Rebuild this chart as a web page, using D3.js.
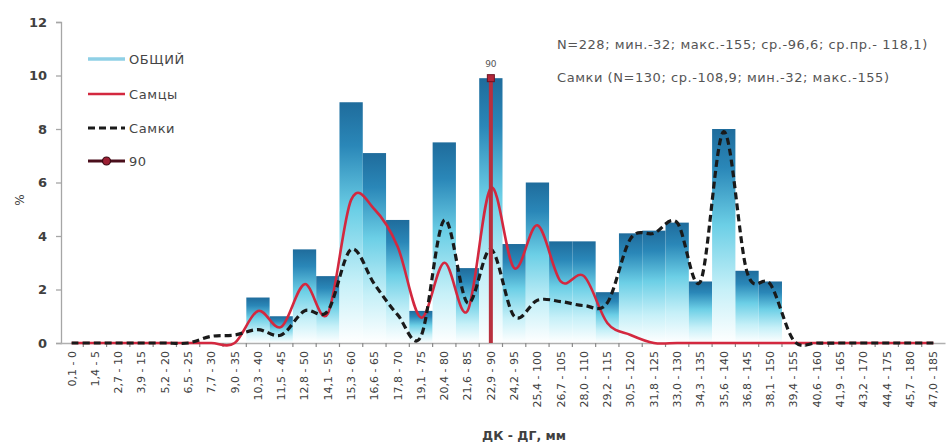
<!DOCTYPE html>
<html>
<head>
<meta charset="utf-8">
<script src="https://cdn.jsdelivr.net/npm/d3@7"></script>
<style>
  body { margin: 0; background: #ffffff; }
  svg { display: block; }
  text { font-family: "DejaVu Sans", "Liberation Sans", Arial, sans-serif; }
</style>
</head>
<body>
<svg id="chart" width="948" height="448"></svg>
<script>
// Length classes: "ДК - ДГ" pairs
const categories = [
  "0,1 - 0", "1,4 - 5", "2,7 - 10", "3,9 - 15", "5,2 - 20", "6,5 - 25", "7,7 - 30", "9,0 - 35",
  "10,3 - 40", "11,5 - 45", "12,8 - 50", "14,1 - 55", "15,3 - 60", "16,6 - 65", "17,8 - 70", "19,1 - 75",
  "20,4 - 80", "21,6 - 85", "22,9 - 90", "24,2 - 95", "25,4 - 100", "26,7 - 105", "28,0 - 110", "29,2 - 115",
  "30,5 - 120", "31,8 - 125", "33,0 - 130", "34,3 - 135", "35,6 - 140", "36,8 - 145", "38,1 - 150", "39,4 - 155",
  "40,6 - 160", "41,9 - 165", "43,2 - 170", "44,4 - 175", "45,7 - 180", "47,0 - 185"
];

// ОБЩИЙ, %
const totalPct = [
  0, 0, 0, 0, 0, 0, 0, 0,
  1.7, 1.0, 3.5, 2.5, 9.0, 7.1, 4.6, 1.2,
  7.5, 2.8, 9.9, 3.7, 6.0, 3.8, 3.8, 1.9,
  4.1, 4.2, 4.5, 2.3, 8.0, 2.7, 2.3, 0,
  0, 0, 0, 0, 0, 0
];

// Самцы, %
const malesPct = [
  0, 0, 0, 0, 0, 0, 0, 0,
  1.2, 0.6, 2.2, 1.1, 5.35, 5.0, 3.6, 0.95,
  3.0, 1.2, 5.8, 2.8, 4.4, 2.3, 2.5, 0.75,
  0.3, 0, 0, 0, 0, 0, 0, 0,
  0, 0, 0, 0, 0, 0
];

// Самки, %
const femalesPct = [
  0, 0, 0, 0, 0, 0, 0.25, 0.3,
  0.5, 0.3, 1.2, 1.2, 3.5, 2.2, 1.05, 0.25,
  4.6, 1.5, 3.5, 1.0, 1.6, 1.55, 1.4, 1.5,
  3.9, 4.1, 4.5, 2.3, 7.9, 2.65, 2.2, 0.1,
  0, 0, 0, 0, 0, 0
];

// "90" marker series
const markerCategory = "22,9 - 90";
const markerValue = 9.9;
const markerLabel = "90";

const yTicks = [0, 2, 4, 6, 8, 10, 12];
const legendLabels = ["ОБЩИЙ", "Самцы", "Самки", "90"];
const notes = [
  "N=228; мин.-32; макс.-155; ср.-96,6; ср.пр.- 118,1)",
  "Самки (N=130; ср.-108,9; мин.-32; макс.-155)"
];
const yTitle = "%";
const xTitle = "ДК - ДГ, мм";

const svg = d3.select("#chart");
const margin = { left: 60, right: 3, top: 22, bottom: 105 };
const W = 948, H = 448;

const x = d3.scaleBand()
  .domain(categories)
  .range([margin.left, W - margin.right])
  .paddingInner(0)
  .paddingOuter(0);

const y = d3.scaleLinear()
  .domain([0, 12])
  .range([H - margin.bottom, margin.top]);

const cx = c => x(c) + x.bandwidth() / 2;

// Vertical gradient used by every bar
const defs = svg.append("defs");
const grad = defs.append("linearGradient")
  .attr("id", "barGrad")
  .attr("x1", 0).attr("y1", 0).attr("x2", 0).attr("y2", 1);
[
  [0, "#1f6c9c"],
  [0.18, "#2a87b8"],
  [0.45, "#6ccfe6"],
  [0.75, "#c6f0f8"],
  [1, "#ffffff"]
].forEach(([o, c]) => grad.append("stop").attr("offset", o).attr("stop-color", c));

// Bars: ОБЩИЙ
svg.append("g")
  .selectAll("rect")
  .data(categories.map((c, i) => ({ c, v: totalPct[i] })).filter(d => d.v > 0))
  .join("rect")
  .attr("x", d => x(d.c))
  .attr("y", d => y(d.v))
  .attr("width", x.bandwidth())
  .attr("height", d => y(0) - y(d.v))
  .attr("fill", "url(#barGrad)");

// Y axis
const yAxis = d3.axisLeft(y).tickValues(yTicks).tickSize(5).tickPadding(9);
const gy = svg.append("g")
  .attr("transform", `translate(${margin.left + 1},0)`)
  .call(yAxis);
gy.select(".domain").attr("stroke", "#a6a6a6").attr("stroke-width", 1.3);
gy.selectAll(".tick line").attr("stroke", "#a6a6a6").attr("stroke-width", 1.3);
gy.selectAll(".tick text")
  .attr("fill", "#404040")
  .attr("font-size", 13)
  .attr("font-weight", "bold")
  .style("font-family", "'DejaVu Sans', Arial, sans-serif");

// X axis
const xAxis = d3.axisBottom(x).tickSize(0).tickFormat(d => d);
const gx = svg.append("g")
  .attr("transform", `translate(0,${y(0)})`)
  .call(xAxis);
gx.select(".domain").attr("stroke", "#b0b0b0").attr("stroke-width", 1.3);
gx.selectAll(".tick text")
  .attr("fill", "#404040")
  .attr("font-size", 11)
  .attr("text-anchor", "end")
  .attr("transform", "rotate(-90)")
  .attr("x", -8)
  .attr("y", 0)
  .attr("dy", "0.35em")
  .style("font-family", "'DejaVu Sans', Arial, sans-serif");

// Small boundary ticks between categories
svg.append("g")
  .selectAll("line")
  .data(categories.slice(1))
  .join("line")
  .attr("x1", d => x(d)).attr("x2", d => x(d))
  .attr("y1", y(0)).attr("y2", y(0) + 4)
  .attr("stroke", "#8a8a8a")
  .attr("stroke-width", 1.2);

// Smoothed lines
const line = d3.line()
  .x((d, i) => cx(categories[i]))
  .y(d => y(d))
  .curve(d3.curveCardinal.tension(0));

svg.append("path")
  .datum(malesPct)
  .attr("d", line)
  .attr("fill", "none")
  .attr("stroke", "#d3283f")
  .attr("stroke-width", 2.6)
  .attr("stroke-linejoin", "round");

svg.append("path")
  .datum(femalesPct)
  .attr("d", line)
  .attr("fill", "none")
  .attr("stroke", "#1a1a1a")
  .attr("stroke-width", 3.2)
  .attr("stroke-dasharray", "7,4");

// "90" series: vertical stem with marker on top
const mx = cx(markerCategory);
svg.append("line")
  .attr("x1", mx).attr("x2", mx)
  .attr("y1", y(0)).attr("y2", y(markerValue))
  .attr("stroke", "#b8303e")
  .attr("stroke-width", 4);
svg.append("rect")
  .attr("x", mx - 3.5).attr("y", y(markerValue) - 3.5)
  .attr("width", 7).attr("height", 7)
  .attr("fill", "#b3263a")
  .attr("stroke", "#6b1322")
  .attr("stroke-width", 1);
svg.append("text")
  .attr("x", mx).attr("y", y(markerValue) - 11)
  .attr("text-anchor", "middle")
  .attr("font-size", 9)
  .attr("fill", "#555")
  .text(markerLabel);

// Legend
const lg = svg.append("g");
const lgX0 = 88, lgX1 = 125, lgTextX = 129;
const lgY = [59, 94, 128, 161];
lg.append("line").attr("x1", lgX0).attr("x2", lgX1).attr("y1", lgY[0]).attr("y2", lgY[0])
  .attr("stroke", "#8fd0e6").attr("stroke-width", 3.5);
lg.append("line").attr("x1", lgX0).attr("x2", lgX1).attr("y1", lgY[1]).attr("y2", lgY[1])
  .attr("stroke", "#d3283f").attr("stroke-width", 2.6);
lg.append("line").attr("x1", lgX0).attr("x2", lgX1).attr("y1", lgY[2]).attr("y2", lgY[2])
  .attr("stroke", "#1a1a1a").attr("stroke-width", 3).attr("stroke-dasharray", "7,4");
lg.append("line").attr("x1", lgX0).attr("x2", lgX1).attr("y1", lgY[3]).attr("y2", lgY[3])
  .attr("stroke", "#4a0f1c").attr("stroke-width", 3);
lg.append("circle").attr("cx", (lgX0 + lgX1) / 2).attr("cy", lgY[3]).attr("r", 4)
  .attr("fill", "#9c1f33").attr("stroke", "#3a0a14").attr("stroke-width", 1.2);
lg.selectAll("text")
  .data(legendLabels)
  .join("text")
  .attr("x", lgTextX)
  .attr("y", (d, i) => lgY[i])
  .attr("dy", "0.35em")
  .attr("font-size", 13)
  .attr("letter-spacing", 0.6)
  .attr("fill", "#454545")
  .text(d => d);

// Summary notes
svg.append("g")
  .selectAll("text")
  .data(notes)
  .join("text")
  .attr("x", 557)
  .attr("y", (d, i) => 44 + i * 33)
  .attr("dy", "0.35em")
  .attr("font-size", 13)
  .attr("letter-spacing", 0.55)
  .attr("fill", "#555555")
  .text(d => d);

// Axis titles
svg.append("text")
  .attr("transform", "translate(20,200) rotate(-90)")
  .attr("text-anchor", "middle")
  .attr("dy", "0.35em")
  .attr("font-size", 12)
  .attr("fill", "#404040")
  .text(yTitle);

svg.append("text")
  .attr("x", 524)
  .attr("y", 440)
  .attr("text-anchor", "middle")
  .attr("font-size", 12.5)
  .attr("font-weight", "bold")
  .attr("fill", "#404040")
  .text(xTitle);
</script>
</body>
</html>
